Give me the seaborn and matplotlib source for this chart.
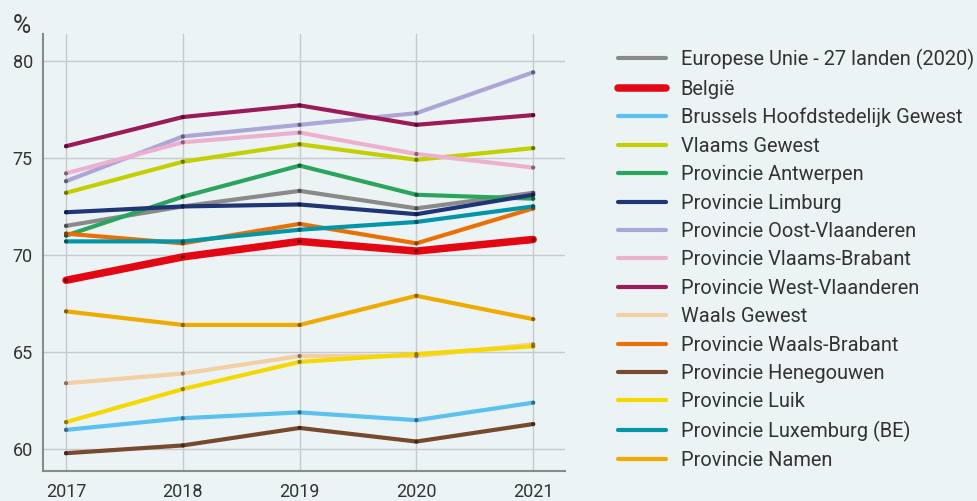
import matplotlib
matplotlib.use("Agg")
import matplotlib.pyplot as plt
import matplotlib.colors as mcolors
import seaborn as sns
import pandas as pd

# data
years = [2017, 2018, 2019, 2020, 2021]

eu27 = [71.5, 72.5, 73.3, 72.4, 73.2]
belgie = [68.7, 69.9, 70.7, 70.2, 70.8]
brussel = [61.0, 61.6, 61.9, 61.5, 62.4]
vlaams_gewest = [73.2, 74.8, 75.7, 74.9, 75.5]
antwerpen = [71.0, 73.0, 74.6, 73.1, 72.9]
limburg = [72.2, 72.5, 72.6, 72.1, 73.1]
oost_vl = [73.8, 76.1, 76.7, 77.3, 79.4]
vlaams_brabant = [74.2, 75.8, 76.3, 75.2, 74.5]
west_vl = [75.6, 77.1, 77.7, 76.7, 77.2]
waals_gewest = [63.4, 63.9, 64.8, 64.8, 65.4]
waals_brabant = [71.1, 70.6, 71.6, 70.6, 72.4]
henegouwen = [59.8, 60.2, 61.1, 60.4, 61.3]
luik = [61.4, 63.1, 64.5, 64.9, 65.3]
luxemburg = [70.7, 70.7, 71.3, 71.7, 72.5]
namen = [67.1, 66.4, 66.4, 67.9, 66.7]

names = ["Europese Unie - 27 landen (2020)", "België", "Brussels Hoofdstedelijk Gewest",
         "Vlaams Gewest", "Provincie Antwerpen", "Provincie Limburg",
         "Provincie Oost-Vlaanderen", "Provincie Vlaams-Brabant", "Provincie West-Vlaanderen",
         "Waals Gewest", "Provincie Waals-Brabant", "Provincie Henegouwen",
         "Provincie Luik", "Provincie Luxemburg (BE)", "Provincie Namen"]
series = [eu27, belgie, brussel, vlaams_gewest, antwerpen, limburg, oost_vl,
          vlaams_brabant, west_vl, waals_gewest, waals_brabant, henegouwen,
          luik, luxemburg, namen]
colors = ["#8a8a8a", "#e30613", "#5bc1ee", "#c3cf00", "#2aa560", "#1f3575",
          "#aca6d6", "#eeb0cf", "#9b1a58", "#f3cfa4", "#ea7005", "#774a30",
          "#f5d800", "#0395a8", "#eeab00"]

rows = []
for name, vals in zip(names, series):
    for yr, v in zip(years, vals):
        rows.append({"jaar": yr, "waarde": v, "regio": name})
df = pd.DataFrame(rows)

palette = dict(zip(names, colors))
dark = {n: tuple(c * 0.55 for c in mcolors.to_rgb(col)) for n, col in palette.items()}
widths = {n: (5.4 if n == "België" else 3.0) for n in names}

bg = "#ecf3f5"
txt = "#333333"
sns.set_theme(style="white")
plt.rcParams["font.family"] = ["Roboto", "DejaVu Sans"]

fig = plt.figure(figsize=(9.77, 5.01), dpi=100, facecolor=bg)
ax = fig.add_axes([0.0437, 0.0605, 0.5343, 0.8715])
ax.set_facecolor(bg)

sns.lineplot(data=df, x="jaar", y="waarde", hue="regio", size="regio",
             hue_order=names, size_order=names, palette=palette, sizes=widths,
             sort=False, ax=ax, legend="full")
for ln in ax.lines:
    ln.set_solid_capstyle("round")
sns.scatterplot(data=df, x="jaar", y="waarde", hue="regio", hue_order=names,
                palette=dark, s=9, linewidth=0, legend=False, ax=ax, zorder=5)

ax.set_xlim(2016.8, 2021.27)
ax.set_ylim(58.9, 81.37)
ax.set_xticks(years)
ax.set_yticks([60, 65, 70, 75, 80])
ax.set_xlabel("")
ax.set_ylabel("")
ax.grid(True, color="#c6cacc", linewidth=1)
for s in ["top", "right"]:
    ax.spines[s].set_visible(False)
for s in ["left", "bottom"]:
    ax.spines[s].set_color("#8a8a8a")
    ax.spines[s].set_linewidth(1.5)
ax.tick_params(axis="both", length=0, labelsize=13, labelcolor=txt)
ax.tick_params(axis="y", pad=7)
ax.tick_params(axis="x", pad=9)
fig.text(0.013, 0.935, "%", fontsize=18, color=txt, ha="left", va="baseline")

handles, labels = ax.get_legend_handles_labels()
ax.get_legend().remove()
for h in handles:
    h.set_solid_capstyle("round")
fig.legend(handles, labels, loc="upper left", bbox_to_anchor=(0.633, 0.902),
           frameon=False, fontsize=14.4, labelcolor=txt, handlelength=2.4,
           handletextpad=0.72, labelspacing=0.47, borderpad=0, borderaxespad=0)

fig.savefig("out.png", dpi=100, facecolor=bg)
